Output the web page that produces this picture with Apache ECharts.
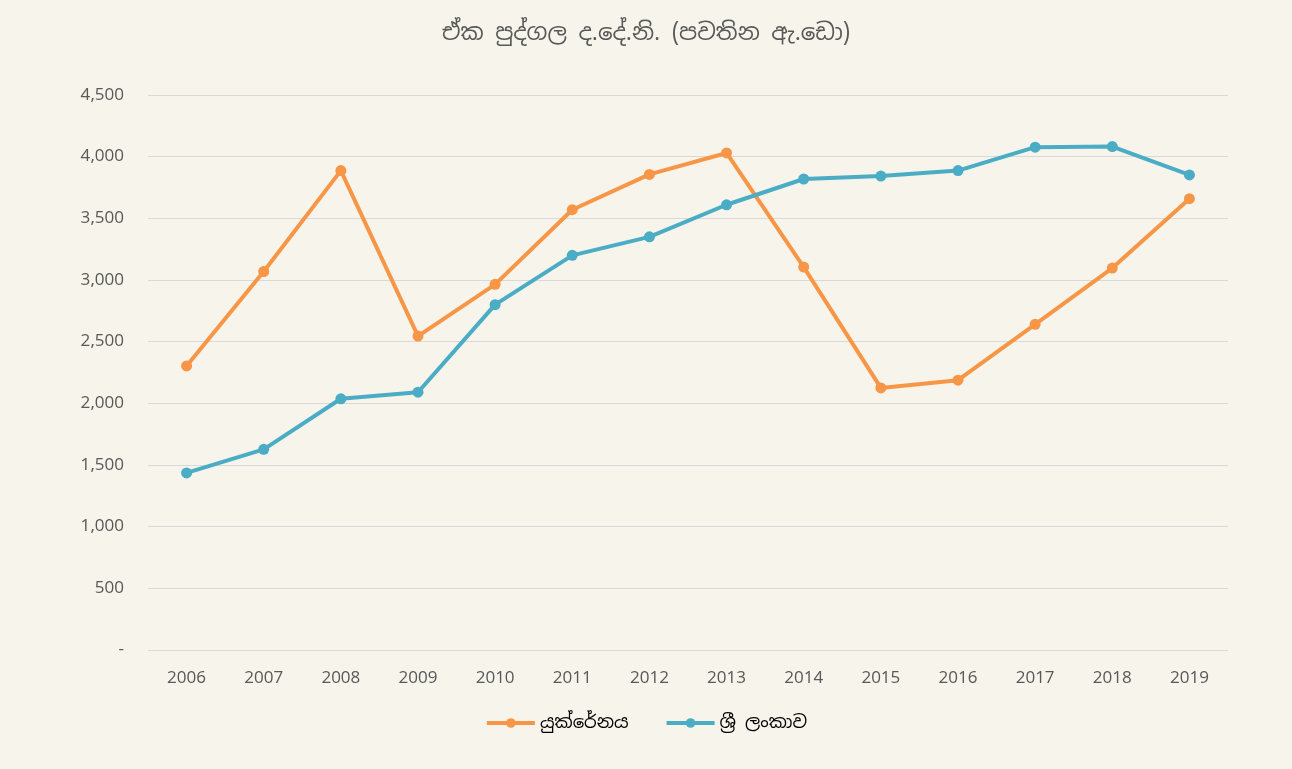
<!DOCTYPE html>
<html>
<head>
<meta charset="utf-8">
<script src="https://cdn.jsdelivr.net/npm/echarts@6/dist/echarts.min.js"></script>
<style>
  html, body { margin: 0; padding: 0; background: #f7f5eb; }
  #chart { width: 1292px; height: 769px; }
</style>
</head>
<body>
<div id="chart"></div>
<script>
// 年份
const years = ['2006', '2007', '2008', '2009', '2010', '2011', '2012', '2013', '2014', '2015', '2016', '2017', '2018', '2019']
// 乌克兰
const ukraine = [2303, 3069, 3887, 2545, 2965, 3570, 3856, 4030, 3105, 2125, 2188, 2641, 3097, 3659]
// 斯里兰卡
const sriLanka = [1436, 1627, 2037, 2090, 2800, 3200, 3350, 3610, 3819, 3843, 3887, 4077, 4082, 3852]

const FONT = '"Noto Sans Sinhala", "Iskoola Pota", "Noto Sans", "DejaVu Sans", sans-serif'

const chart = echarts.init(document.getElementById('chart'))
const option = {
  backgroundColor: '#f7f5eb',
  textStyle: { fontFamily: FONT },
  title: {
    text: 'ඒක පුද්ගල ද.දේ.නි. (පවතින ඇ.ඩො)',
    left: 'center',
    top: 17,
    textStyle: { color: '#595959', fontSize: 23, fontWeight: 'normal', fontFamily: FONT }
  },
  legend: {
    bottom: 32,
    left: 'center',
    itemWidth: 48,
    itemHeight: 12,
    itemGap: 36,
    lineStyle: { width: 4 },
    textStyle: { color: '#000', fontSize: 18, fontFamily: FONT },
    data: ['යුක්රේනය', 'ශ්‍රී ලංකාව']
  },
  grid: { left: 148, right: 64, top: 95, bottom: 119 },
  xAxis: {
    type: 'category',
    data: years,
    boundaryGap: true,
    axisLine: { show: false },
    axisTick: { show: false },
    axisLabel: { color: '#595959', fontSize: 17, margin: 20 }
  },
  yAxis: {
    type: 'value',
    min: 0,
    max: 4500,
    interval: 500,
    axisLine: { show: false },
    axisTick: { show: false },
    splitLine: { lineStyle: { color: '#d9d9d9', width: 1 } },
    axisLabel: {
      color: '#595959',
      fontSize: 17,
      margin: 24,
      formatter: v => v === 0 ? '-' : v.toLocaleString('en-US')
    }
  },
  series: [
    {
      name: 'යුක්රේනය',
      type: 'line',
      data: ukraine,
      symbol: 'circle',
      symbolSize: 11,
      color: '#f79646',
      lineStyle: { width: 4 }
    },
    {
      name: 'ශ්‍රී ලංකාව',
      type: 'line',
      data: sriLanka,
      symbol: 'circle',
      symbolSize: 11,
      color: '#4bacc6',
      lineStyle: { width: 4 }
    }
  ]
}
chart.setOption(option)
</script>
</body>
</html>
